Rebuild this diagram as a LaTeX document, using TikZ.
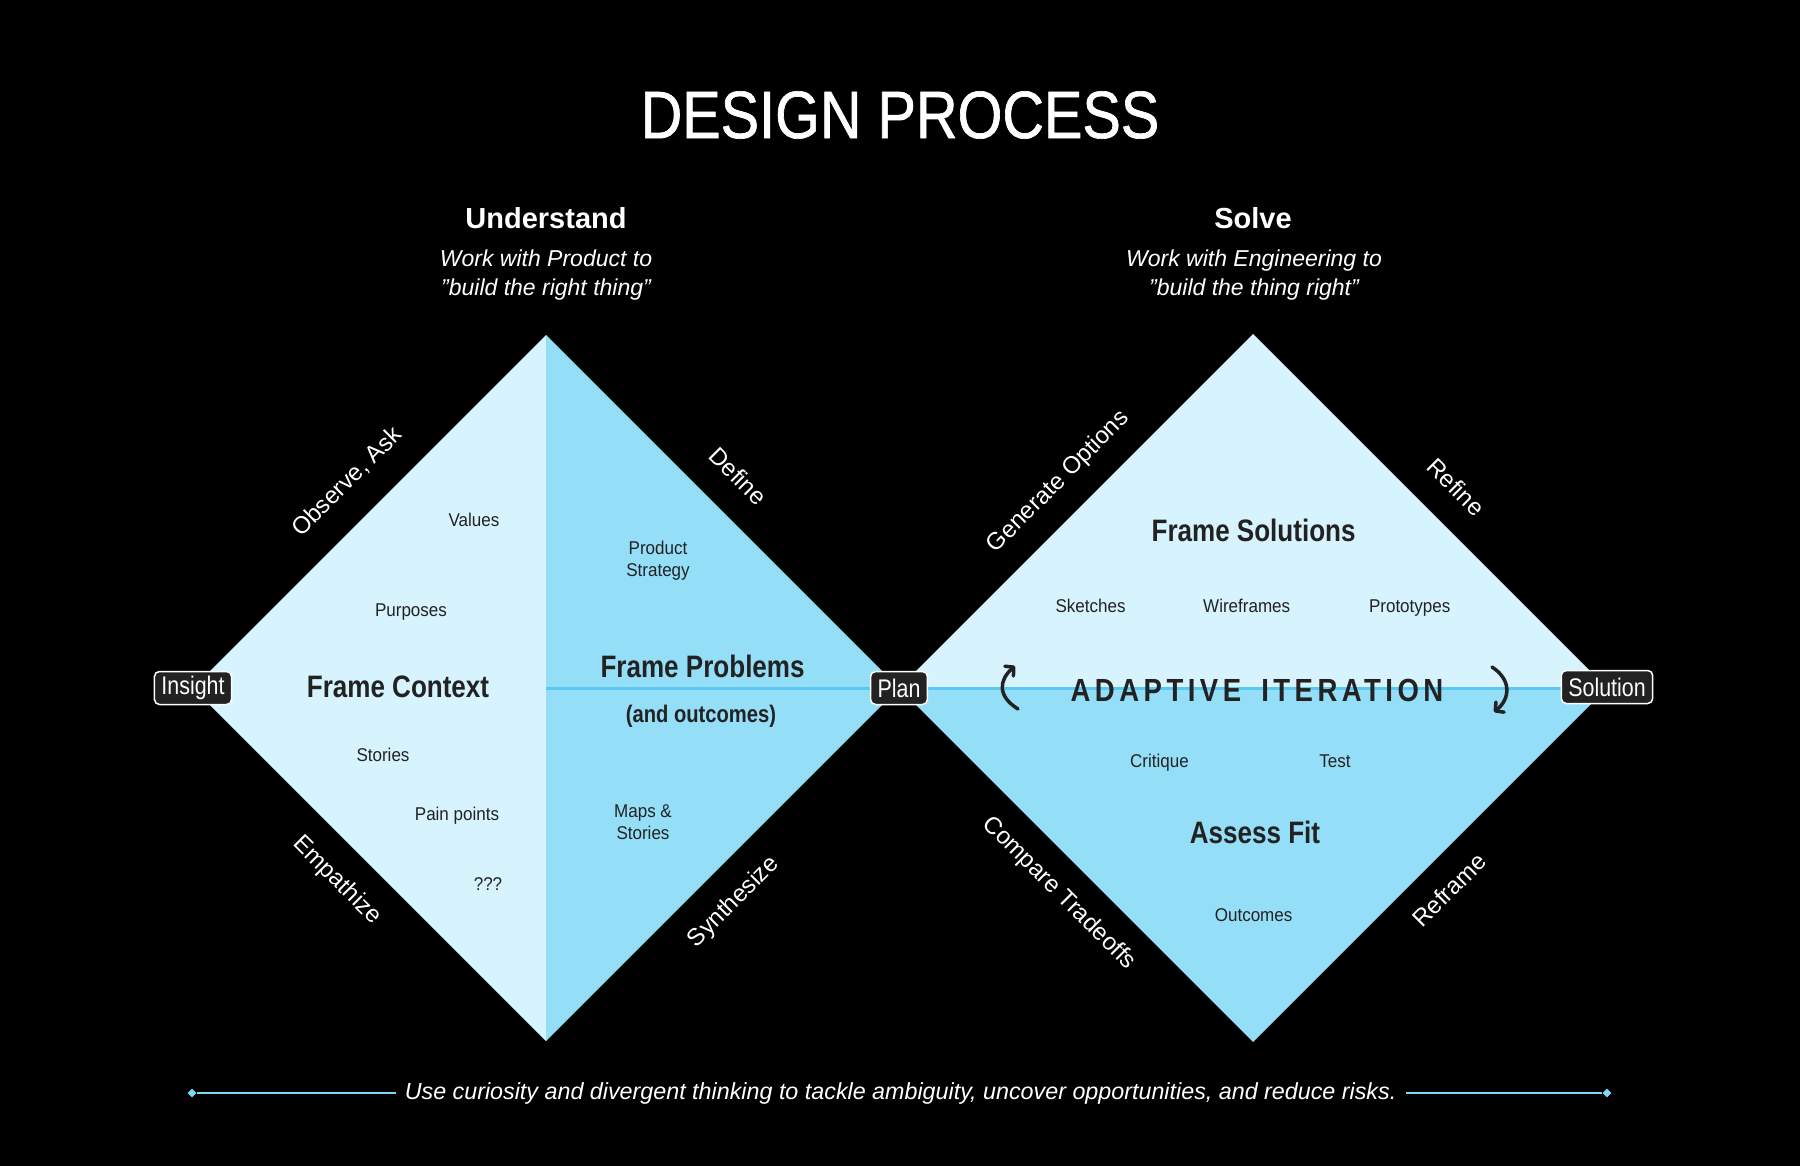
\documentclass[tikz,border=0pt]{standalone}
\usepackage{fontspec}
\setmainfont{Liberation Sans}
\newfontfamily\freg[FakeStretch=0.92]{Liberation Sans}
\newfontfamily\fcond[FakeStretch=0.84]{Liberation Sans}
\newfontfamily\ftitle[FakeStretch=0.86,FakeBold=1]{Liberation Sans}
\newfontfamily\fspaced[FakeStretch=0.86,LetterSpace=14]{Liberation Sans}
\usetikzlibrary{arrows.meta,shapes.geometric}
\definecolor{lightb}{HTML}{D6F3FE}
\definecolor{midb}{HTML}{94DEF7}
\definecolor{lineb}{HTML}{5AC8F2}
\definecolor{ink}{HTML}{222222}
\definecolor{tagbg}{HTML}{222222}
\definecolor{noteb}{HTML}{7FD7F7}
\newcommand\sz[2]{\fontsize{#1}{#2}\selectfont}
\begin{document}
\begin{tikzpicture}[x=1pt,y=-1pt,
  small/.style={text=ink, font=\freg\sz{18.5}{22}, align=center, inner sep=0pt},
  smallb/.style={small, anchor=base},
  edgelbl/.style={text=white, font=\sz{24}{28}, inner sep=0pt},
  head/.style={text=ink, font=\fcond\bfseries\sz{31}{36}, inner sep=0pt},
  tag/.style={draw=white, line width=1.5pt, fill=tagbg, rounded corners=5pt, text=white,
     font=\fcond\sz{25.5}{28}, inner xsep=7pt, inner ysep=0pt, minimum height=33pt},
  phase/.style={text=white, font=\bfseries\sz{29}{34}, inner sep=0pt},
  sub/.style={text=white, font=\itshape\sz{23}{28.5}, align=center, inner sep=0pt},
  loop/.style={draw=ink, line width=3.5pt, line cap=round,
     -{Straight Barb[length=6pt,width=13pt,round]}},
  marker/.style={diamond, fill=noteb, inner sep=0pt, minimum size=9pt}
]
% background / bounding box
\fill[black] (0,0) rectangle (1800,1166);
\useasboundingbox (0,0) rectangle (1800,1166);

% title
\node[text=white, font=\ftitle\sz{67}{80}, inner sep=0pt] (title) at (900,115) {DESIGN PROCESS};

% phase headings
\node[phase] (und) at (546,218) {Understand};
\node[sub] (undsub) at (546,275) {Work with Product to\\”build the right thing”};
\node[phase] (sol) at (1253,218) {Solve};
\node[sub] (solsub) at (1254,275) {Work with Engineering to\\”build the thing right”};

% left diamond
\fill[lightb] (546,335) -- (193,688) -- (546,1041) -- cycle;
\fill[midb] (546,335) -- (899,688) -- (546,1041) -- cycle;
% right diamond
\fill[lightb] (899,688) -- (1253,334) -- (1607,688) -- cycle;
\fill[midb] (899,688) -- (1253,1042) -- (1607,688) -- cycle;
% middle line
\draw[lineb, line width=2.5pt] (546,688.5) -- (1607,688.5);

% left diamond texts
\node[smallb] (values) at (474,526.6) {Values};
\node[smallb] (purposes) at (411,616.6) {Purposes};
\node[head] (fctx) at (398,687) {Frame Context};
\node[smallb] (stories) at (383,761.6) {Stories};
\node[smallb] (pain) at (457,820.6) {Pain points};
\node[smallb] (qqq) at (488,890.6) {???};
\node[small] (prodstrat) at (658,561) {Product\\Strategy};
\node[head] (fprob) at (702.6,666) {Frame Problems};
\node[text=ink, font=\fcond\bfseries\sz{24}{28}, inner sep=0pt] (outc) at (701,716) {(and outcomes)};
\node[small] (maps) at (643,822) {Maps \&\\Stories};

% right diamond texts
\node[head] (fsol) at (1253.6,530) {Frame Solutions};
\node[smallb] (sketch) at (1090.6,612.6) {Sketches};
\node[smallb] (wire) at (1246.7,612.6) {Wireframes};
\node[smallb] (proto) at (1409.7,612.6) {Prototypes};
\node[text=ink, font=\fspaced\bfseries\sz{32}{36}, inner sep=0pt] (adapt) at (1257,690) {ADAPTIVE\hspace{8pt} ITERATION};
\node[smallb] (crit) at (1159.5,767.6) {Critique};
\node[smallb] (test) at (1335,767.6) {Test};
\node[head] (afit) at (1255,832) {Assess Fit};
\node[smallb] (outcomes) at (1253.6,921.6) {Outcomes};

% iteration arrows
\coordinate (la1) at (1018,709);
\coordinate (la2) at (1015,666);
\draw[loop] (la1) .. controls (997,696) and (999,680) .. (la2);
\coordinate (ra1) at (1492,667);
\coordinate (ra2) at (1494,712);
\draw[loop] (ra1) .. controls (1512,680) and (1510,699) .. (ra2);

% edge labels
\node[edgelbl, rotate=45] (obs) at (347,482) {Observe, Ask};
\node[edgelbl, rotate=-45] (def) at (738,476) {Define};
\node[edgelbl, rotate=-45] (emp) at (337,880.5) {Empathize};
\node[edgelbl, rotate=45] (syn) at (734,902.3) {Synthesize};
\node[edgelbl, rotate=45] (gen) at (1058.5,482) {Generate Options};
\node[edgelbl, rotate=-45] (ref) at (1456,487) {Refine};
\node[edgelbl, rotate=-45] (cmp) at (1059,893.3) {Compare Tradeoffs};
\node[edgelbl, rotate=45] (refr) at (1449,890) {Reframe};

% tags
\node[tag] (insight) at (193,688) {Insight};
\node[tag] (plan) at (899,688) {Plan};
\node[tag] (solution) at (1607,687) {Solution};

% bottom note
\node[text=white, font=\itshape\sz{23.3}{28}, inner sep=0pt] (note) at (900.6,1093) {Use curiosity and divergent thinking to tackle ambiguity, uncover opportunities, and reduce risks.};
\node[marker] (mL) at (192,1093) {};
\node[marker] (mR) at (1607,1093) {};
\draw[noteb, line width=2pt] (mL) -- ([xshift=-9pt]note.west);
\draw[noteb, line width=2pt] ([xshift=9pt]note.east) -- (mR);
\end{tikzpicture}
\end{document}
